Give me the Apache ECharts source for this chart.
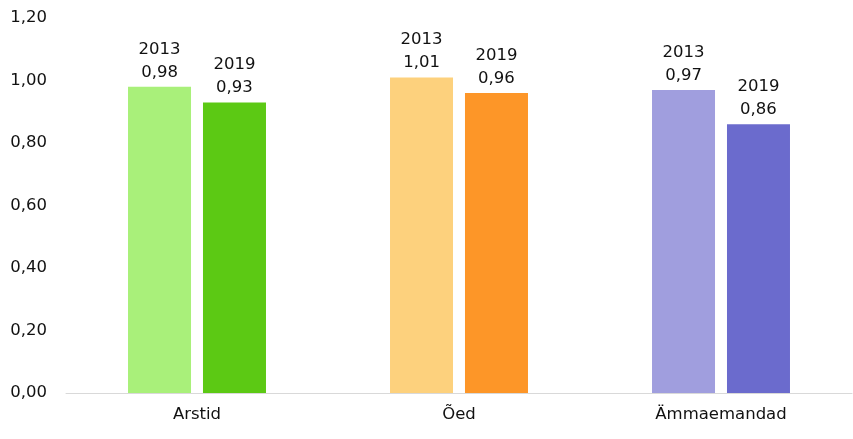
<!DOCTYPE html>
<html><head><meta charset="utf-8">
<script src="https://cdn.jsdelivr.net/npm/echarts@6/dist/echarts.min.js"></script>
<style>html,body{margin:0;padding:0;background:#fff}#c{width:853px;height:439px}</style>
</head><body><div id="c"></div>
<script>
const categories = ["Arstid", "Õed", "Ämmaemandad"];
const seriesNames = ["2013", "2019"];
const values2013 = [0.98, 1.01, 0.97];
const values2019 = [0.93, 0.96, 0.86];
const colors2013 = ["#a9f07a", "#fdd17d", "#a09ede"];
const colors2019 = ["#5cc914", "#fd9628", "#6b6bcd"];
const yTicks = { min: 0, max: 1.2, interval: 0.2 };

const fmt = v => v.toFixed(2).replace('.', ',');
const font = '"DejaVu Sans", sans-serif';
function mk(name, vals, cols) {
  return {
    name: name, type: 'bar', barWidth: 63, barGap: '19%',
    data: vals.map((v, i) => ({ value: v, itemStyle: { color: cols[i] } })),
    label: { show: true, position: 'top', distance: 3, color: '#111', fontSize: 16.5, fontFamily: font, lineHeight: 23,
      formatter: p => name + '\n' + fmt(p.value) }
  };
}
const chart = echarts.init(document.getElementById('c'));
chart.setOption({
  animation: false,
  grid: { left: 66, right: 1, top: 18, bottom: 46 },
  xAxis: { type: 'category', data: categories,
    axisLine: { lineStyle: { color: '#d9d9d9', width: 1 } }, axisTick: { show: false },
    axisLabel: { color: '#111', fontSize: 16.5, fontFamily: font, margin: 13 } },
  yAxis: { type: 'value', min: yTicks.min, max: yTicks.max, interval: yTicks.interval,
    splitLine: { show: false }, axisLine: { show: false }, axisTick: { show: false },
    axisLabel: { color: '#111', fontSize: 16.5, fontFamily: font, margin: 19, formatter: v => fmt(v) } },
  series: [mk(seriesNames[0], values2013, colors2013), mk(seriesNames[1], values2019, colors2019)]
});
</script></body></html>
